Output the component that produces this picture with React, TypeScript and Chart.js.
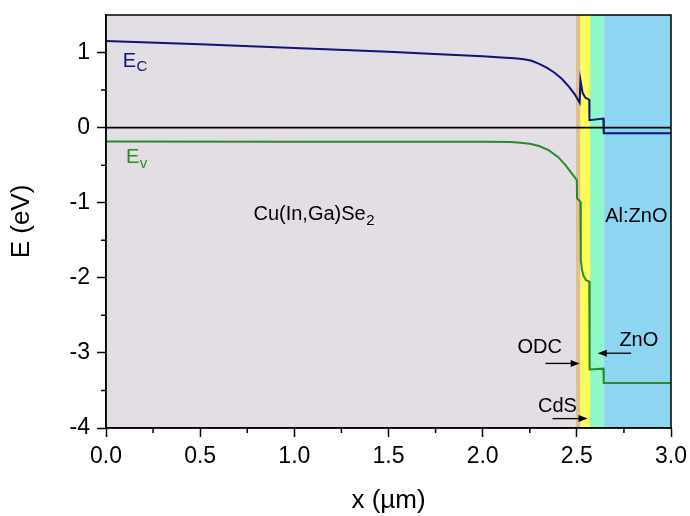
import React, { useEffect, useRef } from 'react';
import { Chart, registerables } from 'chart.js';

Chart.register(...registerables);

// ---- Data ----
const ecX = [0, 0.5, 1.0, 1.5, 1.8, 2.0, 2.1, 2.17, 2.22, 2.26, 2.3, 2.34, 2.38, 2.42, 2.46, 2.49, 2.51, 2.515, 2.519, 2.531, 2.545, 2.566, 2.567, 2.641, 2.643, 3.0];
const ecY = [1.155, 1.11, 1.06, 1.01, 0.975, 0.95, 0.935, 0.925, 0.91, 0.89, 0.85, 0.8, 0.735, 0.65, 0.54, 0.44, 0.35, 0.33, 0.635, 0.46, 0.4, 0.37, 0.1, 0.12, -0.075, -0.075];

const evX = [0, 1.0, 2.0, 2.15, 2.2, 2.25, 2.3, 2.35, 2.4, 2.44, 2.47, 2.5, 2.501, 2.519, 2.521, 2.528, 2.535, 2.548, 2.566, 2.568, 2.641, 2.643, 3.0];
const evY = [-0.185, -0.187, -0.188, -0.19, -0.2, -0.215, -0.245, -0.3, -0.39, -0.5, -0.6, -0.7, -0.94, -0.99, -1.76, -1.9, -1.97, -2.03, -2.05, -3.22, -3.21, -3.4, -3.4];

const zeroX = [0, 3];
const zeroY = [0, 0];

const layerNames = ['Cu(In,Ga)Se2', 'ODC', 'CdS', 'ZnO', 'Al:ZnO'];
const layerStart = [0, 2.495, 2.52, 2.57, 2.642];
const layerEnd = [2.495, 2.52, 2.57, 2.642, 3.0];

const xMajorTicks = [0, 0.5, 1.0, 1.5, 2.0, 2.5, 3.0];
const xMinorTicks = [0.25, 0.75, 1.25, 1.75, 2.25, 2.75];
const yMajorTicks = [-4, -3, -2, -1, 0, 1];
const yMinorTicks = [-3.5, -2.5, -1.5, -0.5, 0.5];

// ---- Styles ----
const layerColors = ['#e2dee3', '#e2c08e', '#ffff57', '#8ff8c8', '#8dd6f2'];
const ecColor = '#121279';
const evColor = '#2a8a2a';
const FONT = '"Liberation Sans", Arial, Helvetica, sans-serif';

const zip = (xs: number[], ys: number[]) => xs.map((x, i) => ({ x, y: ys[i] }));

function drawArrow(ctx: CanvasRenderingContext2D, x0: number, y0: number, x1: number, y1: number) {
  const dir = Math.sign(x1 - x0);
  const head = 9;
  ctx.save();
  ctx.strokeStyle = '#000';
  ctx.fillStyle = '#000';
  ctx.lineWidth = 1.3;
  ctx.beginPath();
  ctx.moveTo(x0, y0);
  ctx.lineTo(x1 - dir * head * 0.6, y1);
  ctx.stroke();
  ctx.beginPath();
  ctx.moveTo(x1, y1);
  ctx.lineTo(x1 - dir * head, y1 - 3.5);
  ctx.lineTo(x1 - dir * head, y1 + 3.5);
  ctx.closePath();
  ctx.fill();
  ctx.restore();
}

function drawSubText(
  ctx: CanvasRenderingContext2D,
  main: string,
  sub: string,
  x: number,
  y: number,
  color: string,
  mainSize: number,
  subSize: number,
  subDy: number
) {
  ctx.save();
  ctx.fillStyle = color;
  ctx.textAlign = 'left';
  ctx.textBaseline = 'middle';
  ctx.font = `${mainSize}px ${FONT}`;
  ctx.fillText(main, x, y);
  const w = ctx.measureText(main).width;
  if (sub) {
    ctx.font = `${subSize}px ${FONT}`;
    ctx.fillText(sub, x + w + 0.5, y + subDy);
  }
  ctx.restore();
}

const bandPlugin = {
  id: 'bands',
  beforeDraw(chart: any) {
    const { ctx, chartArea, scales } = chart;
    const xs = scales.x;
    ctx.save();
    layerStart.forEach((s, i) => {
      const x0 = xs.getPixelForValue(s);
      const x1 = xs.getPixelForValue(layerEnd[i]);
      ctx.fillStyle = layerColors[i];
      ctx.fillRect(x0, chartArea.top, x1 - x0, chartArea.bottom - chartArea.top);
    });
    ctx.restore();
  },
};

const overlayPlugin = {
  id: 'overlay',
  afterDraw(chart: any) {
    const { ctx, chartArea, scales } = chart;
    const xs = scales.x;
    const ys = scales.y;
    const px = (v: number) => xs.getPixelForValue(v);
    const py = (v: number) => ys.getPixelForValue(v);

    // frame
    ctx.save();
    ctx.strokeStyle = '#000';
    ctx.lineWidth = 1.5;
    ctx.strokeRect(chartArea.left, chartArea.top, chartArea.right - chartArea.left, chartArea.bottom - chartArea.top);

    // minor ticks
    ctx.lineWidth = 1.5;
    ctx.beginPath();
    xMinorTicks.forEach((v) => {
      const x = px(v);
      ctx.moveTo(x, chartArea.bottom);
      ctx.lineTo(x, chartArea.bottom + 5);
    });
    yMinorTicks.forEach((v) => {
      const y = py(v);
      ctx.moveTo(chartArea.left, y);
      ctx.lineTo(chartArea.left - 5, y);
    });
    ctx.stroke();
    ctx.restore();

    // labels
    drawSubText(ctx, 'E', 'C', px(0.089), py(0.885), ecColor, 20, 15, 6);
    drawSubText(ctx, 'E', 'v', px(0.106), py(-0.397), evColor, 20, 15, 6);
    drawSubText(ctx, 'Cu(In,Ga)Se', '2', px(0.783), py(-1.155), '#000', 20, 15, 6);
    drawSubText(ctx, layerNames[4], '', px(2.651), py(-1.187), '#000', 20, 15, 0);
    drawSubText(ctx, layerNames[1], '', px(2.185), py(-2.928), '#000', 20, 15, 0);
    drawSubText(ctx, layerNames[3], '', px(2.726), py(-2.84), '#000', 20, 15, 0);
    drawSubText(ctx, layerNames[2], '', px(2.294), py(-3.71), '#000', 20, 15, 0);

    drawArrow(ctx, px(2.333), py(-3.14), px(2.515), py(-3.14));
    drawArrow(ctx, px(2.788), py(-3.004), px(2.611), py(-3.004));
    drawArrow(ctx, px(2.371), py(-3.875), px(2.557), py(-3.875));
  },
};

export default function App() {
  const canvasRef = useRef<HTMLCanvasElement | null>(null);

  useEffect(() => {
    document.body.style.margin = '0';
    const canvas = canvasRef.current;
    if (!canvas) return;
    Chart.defaults.font.family = FONT;
    const chart = new Chart(canvas, {
      type: 'line',
      data: {
        datasets: [
          {
            label: 'zero',
            data: zip(zeroX, zeroY),
            borderColor: '#000',
            borderWidth: 1.7,
            pointRadius: 0,
            tension: 0,
          },
          {
            label: 'Ev',
            data: zip(evX, evY),
            borderColor: evColor,
            borderWidth: 2,
            pointRadius: 0,
            tension: 0,
          },
          {
            label: 'Ec',
            data: zip(ecX, ecY),
            borderColor: ecColor,
            borderWidth: 2,
            pointRadius: 0,
            tension: 0,
          },
        ],
      },
      options: {
        responsive: false,
        animation: false,
        events: [],
        layout: { padding: { top: 15, right: 19, left: 0, bottom: 0 } },
        plugins: {
          legend: { display: false },
          tooltip: { enabled: false },
        },
        scales: {
          x: {
            type: 'linear',
            min: 0,
            max: 3,
            afterFit: (scale: any) => {
              scale.height = 88;
              scale.paddingLeft = 0;
              scale.paddingRight = 0;
            },
            afterBuildTicks: (scale: any) => {
              scale.ticks = xMajorTicks.map((v) => ({ value: v }));
            },
            ticks: {
              autoSkip: false,
              maxRotation: 0,
              padding: 6,
              color: '#000',
              font: { size: 23 },
              callback: (v: any) => Number(v).toFixed(1),
            },
            grid: {
              display: true,
              drawOnChartArea: false,
              drawTicks: true,
              tickLength: 9,
              tickWidth: 1.5,
              tickColor: '#000',
            },
            border: { display: true, color: '#000', width: 1.5 },
            title: {
              display: true,
              text: 'x (µm)',
              color: '#000',
              font: { size: 26 },
              padding: { top: 0, bottom: 0 },
            },
          },
          y: {
            type: 'linear',
            min: -4,
            max: 1.5,
            afterFit: (scale: any) => {
              scale.width = 106;
              scale.paddingTop = 0;
              scale.paddingBottom = 0;
            },
            afterBuildTicks: (scale: any) => {
              scale.ticks = yMajorTicks.map((v) => ({ value: v }));
            },
            ticks: {
              autoSkip: false,
              padding: 7,
              color: '#000',
              font: { size: 23 },
              callback: (v: any) => String(v),
            },
            grid: {
              display: true,
              drawOnChartArea: false,
              drawTicks: true,
              tickLength: 9,
              tickWidth: 1.5,
              tickColor: '#000',
            },
            border: { display: true, color: '#000', width: 1.5 },
            title: {
              display: true,
              text: 'E (eV)',
              color: '#000',
              font: { size: 26 },
              padding: { top: 6, bottom: 0 },
            },
          },
        },
      },
      plugins: [bandPlugin, overlayPlugin],
    } as any);
    return () => chart.destroy();
  }, []);

  return <canvas ref={canvasRef} width={690} height={516} style={{ display: 'block' }} />;
}
